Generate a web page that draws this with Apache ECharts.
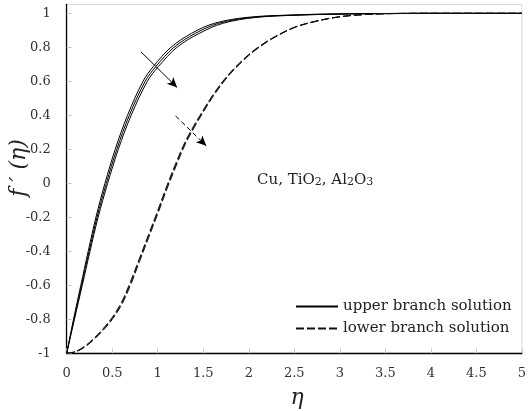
<!DOCTYPE html>
<html>
<head>
<meta charset="utf-8">
<script src="https://cdn.jsdelivr.net/npm/echarts@6/dist/echarts.min.js"></script>
<style>
  html, body { margin: 0; padding: 0; background: #fff; }
  #chart { width: 529px; height: 411px; }
</style>
</head>
<body>
<div id="chart"></div>
<script>
// Upper branch velocity profiles f'(eta), one [eta, f'] list per nanoparticle
const upperCu = [[0,-1],[0.075,-0.8],[0.155,-0.6],[0.236,-0.4],[0.321,-0.2],[0.42,0],[0.533,0.2],[0.668,0.4],[0.838,0.6],[0.95,0.686],[1.145,0.8],[1.37,0.882],[1.62,0.941],[1.98,0.976],[2.5,0.991],[3,0.997],[3.5,0.999],[4,1],[5,1]];
const upperTiO2 = [[0,-1],[0.08,-0.8],[0.163,-0.6],[0.246,-0.4],[0.333,-0.2],[0.435,0],[0.55,0.2],[0.688,0.4],[0.862,0.6],[0.978,0.686],[1.178,0.8],[1.413,0.882],[1.667,0.941],[2.03,0.976],[2.54,0.99],[3,0.996],[3.5,0.999],[4,1],[5,1]];
const upperAl2O3 = [[0,-1],[0.085,-0.8],[0.171,-0.6],[0.256,-0.4],[0.345,-0.2],[0.45,0],[0.567,0.2],[0.708,0.4],[0.886,0.6],[1.006,0.686],[1.211,0.8],[1.456,0.882],[1.714,0.941],[2.08,0.976],[2.58,0.99],[3.05,0.996],[3.5,0.998],[4,1],[5,1]];

// Lower branch profiles on a shared eta grid
const etaLower = [0,0.1,0.2,0.3,0.4,0.5,0.6,0.7,0.8,0.9,1.0,1.1,1.2,1.3,1.4,1.5,1.6,1.7,1.8,1.9,2.0,2.1,2.25,2.5,2.75,3.0,3.25,3.5,4,5];
const lowerCu    = [-1,-0.989,-0.957,-0.911,-0.855,-0.789,-0.702,-0.579,-0.44,-0.3,-0.16,-0.015,0.12,0.243,0.342,0.431,0.516,0.59,0.654,0.709,0.758,0.8,0.852,0.918,0.956,0.98,0.992,0.998,1,1];
const lowerTiO2  = [-1,-0.99,-0.96,-0.915,-0.86,-0.795,-0.71,-0.59,-0.45,-0.31,-0.17,-0.025,0.11,0.235,0.335,0.425,0.51,0.585,0.65,0.705,0.755,0.797,0.85,0.917,0.955,0.98,0.992,0.998,1,1];
const lowerAl2O3 = [-1,-0.991,-0.963,-0.919,-0.865,-0.801,-0.718,-0.601,-0.46,-0.32,-0.18,-0.035,0.1,0.227,0.328,0.419,0.504,0.58,0.646,0.701,0.752,0.794,0.848,0.916,0.954,0.98,0.992,0.998,1,1];

// Trend arrows, [start, end] in data units
const upperArrow = [[0.815, 0.774], [1.213, 0.564]];
const lowerArrow = [[1.196, 0.396], [1.533, 0.221]];

const UPPER = 'upper branch solution';
const LOWER = 'lower branch solution';
const SERIF = '"DejaVu Serif", "Liberation Serif", serif';

function pair(eta, vals) { return eta.map((e, i) => [e, vals[i]]); }

function upperSeries(data, withArrow) {
  const s = {
    name: UPPER, type: 'line', data: data, symbol: 'none', smooth: 0.35,
    lineStyle: { color: '#000', width: 1, type: 'solid' },
    itemStyle: { color: '#000' }, z: 3
  };
  if (withArrow) {
    s.markLine = {
      silent: true, symbol: ['none', 'arrow'], symbolSize: [7, 10],
      label: { show: false },
      lineStyle: { color: '#000', width: 1, type: 'solid' },
      data: [[{ coord: upperArrow[0] }, { coord: upperArrow[1] }]]
    };
  }
  return s;
}

function lowerSeries(data, withArrow) {
  const s = {
    name: LOWER, type: 'line', data: data, symbol: 'none', smooth: 0.35,
    lineStyle: { color: '#111', width: 1, type: [8, 3] },
    itemStyle: { color: '#111' }, z: 3
  };
  if (withArrow) {
    s.markLine = {
      silent: true, symbol: ['none', 'arrow'], symbolSize: [7, 10],
      label: { show: false },
      lineStyle: { color: '#000', width: 1, type: [5, 3] },
      data: [[{ coord: lowerArrow[0] }, { coord: lowerArrow[1] }]]
    };
  }
  return s;
}

const chart = echarts.init(document.getElementById('chart'), null, { renderer: 'canvas' });
chart.setOption({
  animation: false,
  backgroundColor: '#fff',
  grid: {
    left: 66.7, right: 2.3, top: 4.5, bottom: 57.7,
    show: true, borderColor: '#d9d9d9', borderWidth: 1, backgroundColor: 'transparent'
  },
  xAxis: {
    type: 'value', min: 0, max: 5, interval: 0.5,
    axisLine: { show: true, onZero: false, lineStyle: { color: '#000', width: 1.3 } },
    axisTick: { show: true, inside: true, length: 5, lineStyle: { color: '#c8c8c8' } },
    axisLabel: { margin: 14, color: '#333', fontSize: 13, fontFamily: SERIF },
    splitLine: { show: false }
  },
  yAxis: {
    type: 'value', min: -1, max: 1.052, interval: 0.2,
    axisLine: { show: true, onZero: false, lineStyle: { color: '#000', width: 1.3 } },
    axisTick: { show: true, inside: true, length: 5, lineStyle: { color: '#c8c8c8' } },
    axisLabel: {
      margin: 16, color: '#333', fontSize: 13, fontFamily: SERIF, showMaxLabel: false,
      formatter: v => String(Math.round(v * 10) / 10)
    },
    splitLine: { show: false }
  },
  legend: {
    data: [UPPER, LOWER],
    orient: 'vertical', left: 290, top: 294,
    itemWidth: 42, itemHeight: 10, itemGap: 7,
    itemStyle: { color: 'rgba(0,0,0,0)', borderWidth: 0, opacity: 0 },
    textStyle: { fontSize: 15, color: '#222', fontFamily: SERIF }
  },
  graphic: [
    {
      type: 'text', left: 257, top: 173,
      style: {
        rich: {
          n: { fontSize: 15, fontFamily: SERIF, fill: '#222', verticalAlign: 'bottom', lineHeight: 18 },
          s: { fontSize: 11, fontFamily: SERIF, fill: '#222', verticalAlign: 'bottom', lineHeight: 18 }
        },
        text: '{n|Cu, TiO}{s|2}{n|, Al}{s|2}{n|O}{s|3}'
      }
    },
    {
      type: 'text', x: 19, y: 168, rotation: Math.PI / 2,
      style: {
        text: 'f \u2032 (\u03b7)', align: 'center', verticalAlign: 'middle',
        fontSize: 22, fontStyle: 'italic', fontFamily: SERIF, fill: '#222'
      }
    },
    {
      type: 'text', x: 297, y: 398,
      style: {
        text: '\u03b7', align: 'center', verticalAlign: 'middle',
        fontSize: 22, fontStyle: 'italic', fontFamily: SERIF, fill: '#222'
      }
    }
  ],
  series: [
    upperSeries(upperCu, true),
    upperSeries(upperTiO2, false),
    upperSeries(upperAl2O3, false),
    lowerSeries(pair(etaLower, lowerCu), true),
    lowerSeries(pair(etaLower, lowerTiO2), false),
    lowerSeries(pair(etaLower, lowerAl2O3), false)
  ]
});
</script>
</body>
</html>
